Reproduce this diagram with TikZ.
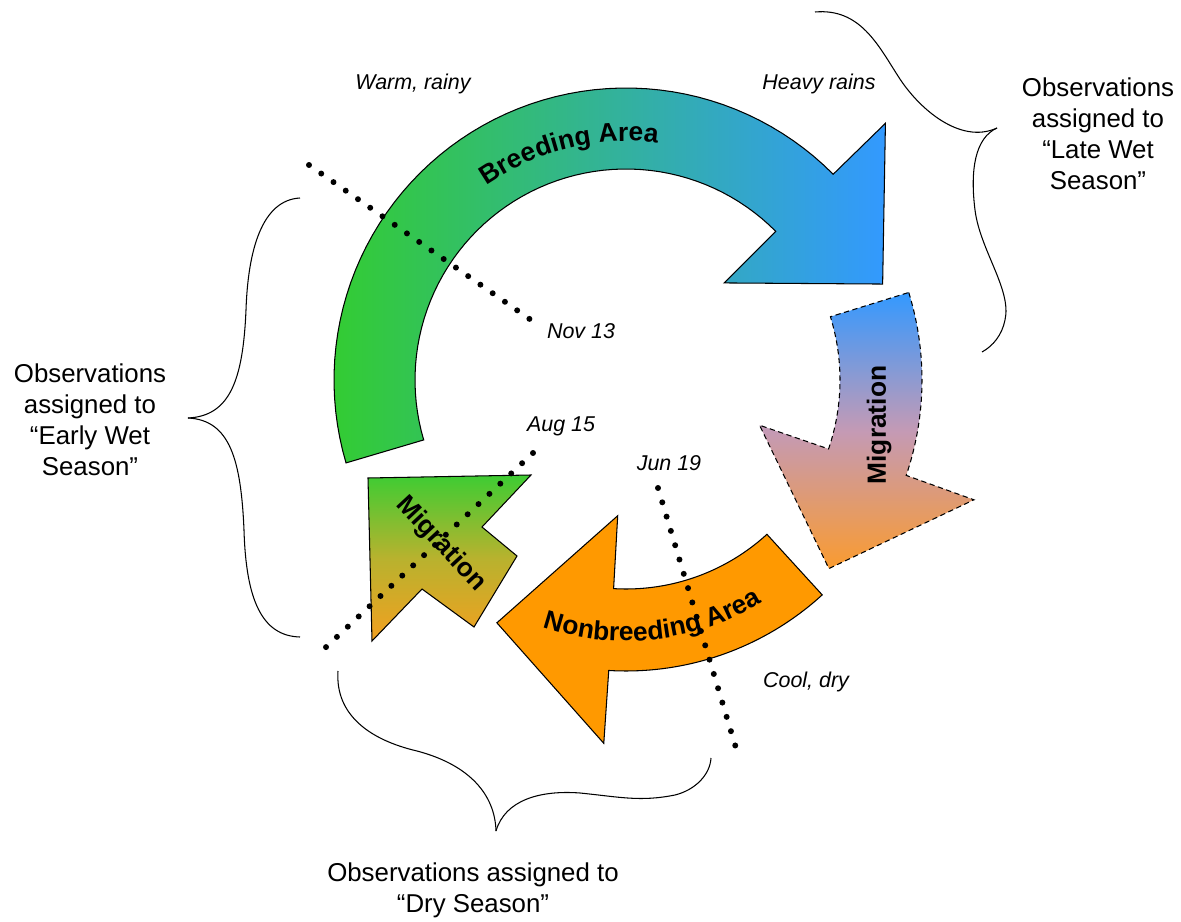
\documentclass[tikz,border=0pt]{standalone}
\usepackage{fontspec}
\setmainfont{Liberation Sans}
\usetikzlibrary{decorations.text}

\definecolor{breedgreen}{HTML}{33CC33}
\definecolor{breedblue}{HTML}{3399FF}
\definecolor{dryorange}{HTML}{FF9900}
\definecolor{miggreen}{HTML}{3ECC33}
\definecolor{migolive}{HTML}{B8B22E}
\definecolor{migorange}{HTML}{F2A020}
\definecolor{migmauve}{HTML}{C49AB5}
\definecolor{migpeach}{HTML}{FA9B30}

\begin{document}
\begin{tikzpicture}[x=0.02cm, y=-0.02cm]
        \tikzset{ringarrow/.style={draw=black, line width=0.6pt},
                 dotrule/.style={line width=3.4pt, line cap=round, dash pattern=on 0pt off 8.5pt},
                 bracecurve/.style={line width=0.6pt},
                 datelabel/.style={font=\fontsize{12.2}{14}\selectfont\itshape},
                 obslabel/.style={align=center, font=\fontsize{14.7}{17.6}\selectfont},
                 arealabel/.style={font=\fontsize{15}{18}\selectfont\bfseries}}
        \useasboundingbox (0,0) rectangle (1181,922);

        % arrows on the ring around the hub
        \begin{scope}[shift={(626,380)}]
            \path[ringarrow, left color=breedgreen, right color=breedblue]
                plot[domain=163.5:315.2, samples=60] (\x:292) -- (315.3:365) -- (339.5:274)
                -- (315.3:138) -- plot[domain=315.2:163.5, samples=60] (\x:211) -- cycle;
            \path[ringarrow, dashed, dash pattern=on 3pt off 2pt,
                  top color=breedblue, bottom color=migpeach, middle color=migmauve]
                plot[domain=-17.2:18.8, samples=30] (\x:296) -- (19:368) -- (42.9:277)
                -- (18.7:141) -- plot[domain=18.8:-17.2, samples=30] (\x:214) -- cycle;
            \path[ringarrow, fill=dryorange]
                plot[domain=47.6:93.4, samples=40] (\x:291) -- (93.5:364) -- (118:275)
                -- (93.5:136) -- plot[domain=93.4:47.6, samples=40] (\x:209) -- cycle;
            \path[decorate, decoration={text along path, text align=center,
                  text={|\fontsize{15}{18}\selectfont\bfseries|Breeding Area}}]
                plot[domain=200:312, samples=50] (\x:239);
            \path[decorate, decoration={text along path, text align=center,
                  text={|\fontsize{15}{18}\selectfont\bfseries|Nonbreeding Area}}]
                plot[domain=140:27, samples=50] (\x:261);
        \end{scope}

        % straight arrow, lower left
        \path[ringarrow, top color=miggreen, bottom color=migorange, middle color=migolive]
            (368,478) -- (531,475) -- (482,527) -- (517,556) -- (474,627)
            -- (422,589) -- (372,641) -- cycle;
        \node[arealabel, rotate=-47] (migleft) at (441,544) {Migration};
        \node[arealabel, rotate=90] (migright) at (879,425) {Migration};

        % date lines
        \coordinate (nova) at (309,165);
        \coordinate (novb) at (531,320);
        \coordinate (auga) at (533,453);
        \coordinate (augb) at (324,649);
        \coordinate (juna) at (658,488);
        \coordinate (junb) at (736,748);
        \draw[dotrule] (nova) -- (novb);
        \draw[dotrule] (auga) -- (augb);
        \draw[dotrule] (juna) -- (junb);

        \node[datelabel] (warm)  at (413,84)  {Warm, rainy};
        \node[datelabel] (heavy) at (819,84)  {Heavy rains};
        \node[datelabel] (nov)   at (581,331) {Nov 13};
        \node[datelabel] (aug)   at (561,426) {Aug 15};
        \node[datelabel] (jun)   at (669,463) {Jun 19};
        \node[datelabel] (cool)  at (806,682) {Cool, dry};

        % braces
        \draw[bracecurve] (300,198) .. controls (262,200) and (248,250) .. (246,310)
            .. controls (243,380) and (230,416) .. (188,418);
        \draw[bracecurve] (188,418) .. controls (230,420) and (241,460) .. (244,530)
            .. controls (246,600) and (262,636) .. (300,637);
        \draw[bracecurve] (815,12) .. controls (860,8) and (878,45) .. (898,76)
            .. controls (918,108) and (960,145) .. (997,128);
        \draw[bracecurve] (997,128) .. controls (975,138) and (970,170) .. (975,210)
            .. controls (980,250) and (1012,290) .. (1005,320)
            .. controls (1002,335) and (993,346) .. (982,352);
        \draw[bracecurve] (338,671) .. controls (335,715) and (370,740) .. (417,751)
            .. controls (470,765) and (495,795) .. (496,831);
        \draw[bracecurve] (496,831) .. controls (505,800) and (540,790) .. (580,793)
            .. controls (620,797) and (640,802) .. (675,795)
            .. controls (695,790) and (710,775) .. (711,758);

        \node[obslabel] (early) at (90,420)  {Observations\\assigned to\\“Early Wet\\Season”};
        \node[obslabel] (late)  at (1098,134) {Observations\\assigned to\\“Late Wet\\Season”};
        \node[obslabel] (dry)   at (473,890) {Observations assigned to\\“Dry Season”};
\end{tikzpicture}
\end{document}
